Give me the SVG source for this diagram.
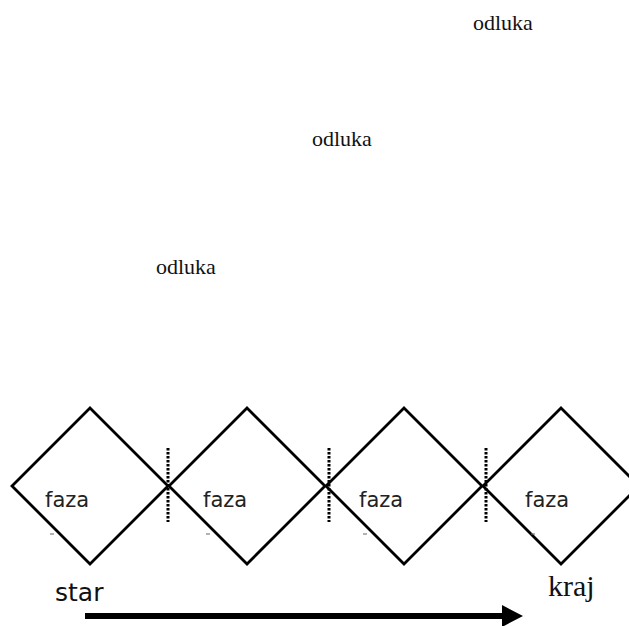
<svg xmlns="http://www.w3.org/2000/svg" width="629" height="626" viewBox="0 0 629 626">
  <style>
    .phase { fill: none; stroke: #000; stroke-width: 2.8; stroke-linejoin: miter; }
    .gate { stroke: #000; stroke-width: 3; stroke-dasharray: 2.5 1.5; }
    .tick { stroke: #666; stroke-width: 1; }
    .label { font-family: "DejaVu Sans", "Liberation Sans", sans-serif; font-size: 21px; fill: #222; }
    .decision { font-family: "Liberation Serif", "Times New Roman", serif; font-size: 22px; fill: #111; }
    .end { font-family: "Liberation Serif", "Times New Roman", serif; font-size: 30px; fill: #111; }
    .start { font-family: "DejaVu Sans", "Liberation Sans", sans-serif; font-size: 25px; fill: #111; }
  </style>
  <rect width="629" height="626" fill="#fff"/>

  <!-- decision labels -->
  <text class="decision" x="473" y="30">odluka</text>
  <text class="decision" x="312" y="146">odluka</text>
  <text class="decision" x="156" y="274">odluka</text>

  <!-- phases -->
  <g id="phase1">
    <polygon class="phase" points="90,408 168,486 90,564 12,486"/>
    <text class="label" x="45" y="507">faza</text>
    <line class="tick" x1="50" y1="534" x2="54" y2="534"/>
  </g>
  <g id="phase2">
    <polygon class="phase" points="247,408 325,486 247,564 169,486"/>
    <text class="label" x="203" y="507">faza</text>
    <line class="tick" x1="206" y1="534" x2="210" y2="534"/>
  </g>
  <g id="phase3">
    <polygon class="phase" points="404,408 482,486 404,564 326,486"/>
    <text class="label" x="359" y="507">faza</text>
    <line class="tick" x1="363" y1="534" x2="367" y2="534"/>
  </g>
  <g id="phase4">
    <polygon class="phase" points="561,408 639,486 561,564 483,486"/>
    <text class="label" x="525" y="507">faza</text>
    <line class="tick" x1="531" y1="534" x2="535" y2="534"/>
  </g>

  <!-- phase gates and time arrow -->
  <g id="connectors">
    <line class="gate" x1="168" y1="448" x2="168" y2="522"/>
    <line class="gate" x1="329" y1="448" x2="329" y2="522"/>
    <line class="gate" x1="486" y1="448" x2="486" y2="522"/>
    <line x1="85" y1="616" x2="504" y2="616" stroke="#000" stroke-width="6"/>
    <polygon points="502,605 523,616 502,627" fill="#000"/>
  </g>

  <text class="start" x="55" y="601">star</text>
  <text class="end" x="548" y="596">kraj</text>
</svg>
